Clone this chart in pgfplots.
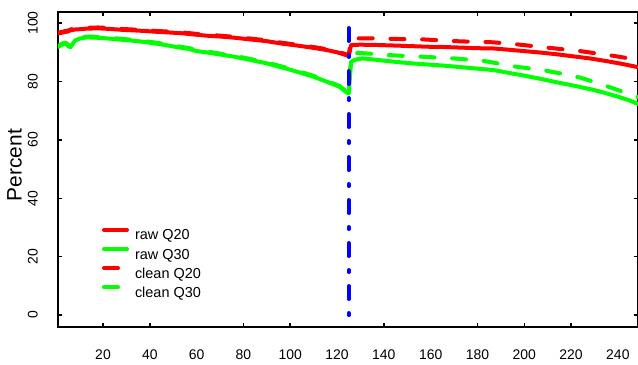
\documentclass[border=0pt]{standalone}
\usepackage{pgfplots}
\pgfplotsset{compat=1.18}
\usepackage{fontspec}
\setmainfont{Liberation Sans}
\begin{document}
\begin{tikzpicture}
\begin{axis}[
  scale only axis, width=580bp, height=315bp,
  xmin=0.77, xmax=248.6, ymin=-4.1, ymax=103.8,
  axis line style={line width=2bp},
  tick style={line width=1.5bp, black},
  tick align=inside, major tick length=4.5bp,
  xtick={20,40,80,100,140,180,200,220},
  extra x ticks={60,120,160,240},
  extra x tick style={major tick length=0pt},
  ytick={0,20,40,60,80,100},
  xtick pos=both, ytick pos=both,
  /pgf/number format/assume math mode=true,
  ticklabel style={font=\fontsize{14}{14}\selectfont, inner sep=0pt},
  xticklabel pos=lower, yticklabel pos=left,
  xticklabel style={anchor=north},
  xticklabel shift=23bp,
  yticklabel style={rotate=90, anchor=south},
  yticklabel shift=20bp,
  ylabel={Percent},
  ylabel style={at={(axis description cs:-0.0621,0.514)}, anchor=south, inner sep=0pt, font=\fontsize{21}{21}\selectfont},
  legend cell align=left,
  legend style={draw=none, fill=none, inner sep=0pt, outer sep=0pt,
    at={(axis description cs:0.0759,0.3143)}, anchor=north west,
    font=\fontsize{14.5}{14.5}\selectfont,
    nodes={inner sep=0pt, text height=10bp, text depth=0bp},
    row sep=7.1bp, column sep=6bp},
  legend image code/.code={\draw[#1, line cap=round] (0bp,5bp) -- (23bp,5bp);},
  every axis plot/.append style={line width=4bp, line join=round},
]
\addplot[red, line cap=round] coordinates {(1,96.5)(2,96.6)(3,96.8)(4,97.0)(5,97.1)(6,97.5)(8,97.8)(10,97.9)(13,98.1)(18,98.2)(23,98.0)(28,97.7)(33,97.5)(38,97.3)(43,97.0)(48,96.8)(54,96.5)(60,96.0)(64,95.7)(70,95.4)(76,95.0)(83,94.4)(90,93.8)(97,92.9)(104,92.2)(110,91.5)(116,90.7)(120,90.0)(124,89.0)(125,88.7)(126,92.5)(130,92.6)(137,92.5)(145,92.3)(152,92.1)(159,91.9)(166,91.8)(173,91.6)(180,91.4)(187,91.3)(193,90.9)(200,90.4)(207,89.9)(214,89.3)(221,88.6)(228,87.9)(235,87.0)(242,86.0)(248,85.0)(250,84.6)};
\addlegendentry{raw Q20}
\addplot[green, line cap=round] coordinates {(1,91.9)(2,92.4)(3,92.8)(4,93.0)(5,92.3)(6,91.7)(7,92.8)(8,94.0)(10,94.7)(13,95.1)(17,95.0)(21,94.8)(28,94.3)(35,93.8)(40,93.3)(45,92.7)(50,92.0)(57,91.1)(60,90.4)(64,90.0)(68,89.5)(76,88.5)(83,87.4)(90,86.2)(97,84.7)(104,83.1)(110,81.6)(116,79.8)(121,78.2)(124,76.3)(125,75.9)(126,86.8)(128,87.5)(131,87.9)(137,87.4)(144,86.8)(152,86.2)(159,85.8)(166,85.4)(173,84.9)(180,84.4)(187,83.9)(193,83.0)(200,82.0)(207,80.9)(214,79.7)(221,78.6)(228,77.4)(234,76.2)(240,74.8)(245,73.5)(248,72.5)(250,72.0)};
\addlegendentry{raw Q30}
\addplot[red, line cap=round, dash pattern=on 14bp off 17.7bp] coordinates {(1,96.8)(2,96.9)(3,97.1)(4,97.3)(5,97.4)(6,97.8)(8,98.1)(10,98.2)(13,98.4)(18,98.5)(23,98.3)(28,98.0)(33,97.8)(38,97.6)(43,97.3)(48,97.1)(54,96.8)(60,96.3)(64,96.0)(70,95.7)(76,95.3)(83,94.7)(90,94.1)(97,93.2)(104,92.5)(110,91.8)(116,91.0)(120,90.3)(124,89.3)(125,89.0)(126,94.6)(129,94.8)(136,94.8)(143,94.6)(150,94.5)(157,94.4)(164,94.1)(171,93.8)(178,93.6)(185,93.5)(190,93.2)(197,92.7)(204,92.1)(211,91.5)(218,90.9)(224,90.4)(231,89.6)(238,88.8)(244,88.0)(248,87.3)(250,87.0)};
\addlegendentry{clean Q20}
\addplot[green, line cap=round, dash pattern=on 14bp off 17.7bp] coordinates {(1,92.2)(2,92.7)(3,93.1)(4,93.3)(5,92.6)(6,92.0)(7,93.1)(8,94.3)(10,95.0)(13,95.4)(17,95.3)(21,95.1)(28,94.6)(35,94.1)(40,93.6)(45,93.0)(50,92.3)(57,91.4)(60,90.7)(64,90.3)(68,89.8)(76,88.8)(83,87.7)(90,86.5)(97,85.0)(104,83.4)(110,81.9)(116,80.1)(121,78.5)(124,76.6)(125,76.2)(126,89.2)(129,89.8)(136,89.4)(143,89.0)(150,88.7)(156,88.5)(163,88.2)(170,87.9)(176,87.5)(183,87.0)(190,86.0)(197,85.0)(204,84.3)(210,83.6)(217,82.5)(224,81.3)(230,79.8)(236,78.2)(242,76.5)(248,74.8)(250,74.2)};
\addlegendentry{clean Q30}
\addplot[blue, line cap=round, dash pattern=on 2bp off 14bp on 13bp off 14bp, forget plot] coordinates {(125,0)(125,100)};
\end{axis}
\pgfresetboundingbox
\path[use as bounding box] (-58bp,-38bp) rectangle (580bp,327bp);
\end{tikzpicture}
\end{document}
